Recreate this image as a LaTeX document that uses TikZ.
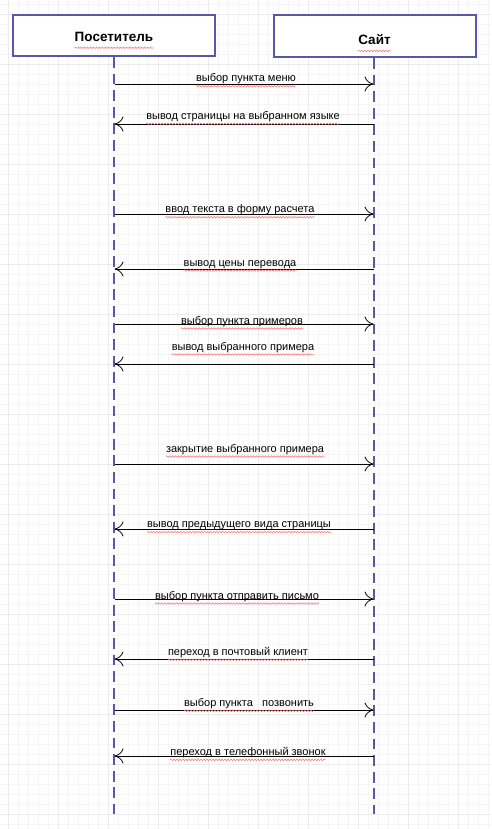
\documentclass[tikz,border=0pt]{standalone}
\usepackage{fontspec}
\setmainfont{Liberation Sans}
\usetikzlibrary{positioning}
\usetikzlibrary{calc}
\usetikzlibrary{arrows.meta}
\usetikzlibrary{decorations.pathmorphing}
\definecolor{cl}{RGB}{88,88,170}
\definecolor{cg}{RGB}{245,245,245}
\definecolor{cgm}{RGB}{236,236,236}
\definecolor{cs}{RGB}{255,110,110}
\tikzstyle{gridline}=[cg, line width=0.8pt]
\tikzstyle{gridmajor}=[cgm, line width=0.8pt]
\tikzstyle{actor}=[draw=cl, line width=2pt, fill=white, minimum width=202pt, minimum height=41pt]
\tikzstyle{head}=[inner sep=0pt, anchor=base, font=\fontsize{13.5}{16}\selectfont\bfseries]
\tikzstyle{lifeline}=[cl, line width=2pt, dash pattern=on 10.8pt off 5.8pt]
\tikzstyle{msg}=[black, line width=0.8pt, -{Computer Modern Rightarrow[length=9pt,width=15pt]}]
\tikzstyle{msgtext}=[inner sep=0pt, anchor=base, font=\fontsize{11}{13}\selectfont]
\tikzstyle{spell}=[cs, line width=0.5pt, decorate, decoration={snake, amplitude=0.8pt, segment length=3pt}]

\begin{document}
\begin{tikzpicture}[x=1pt, y=-1pt]
  \useasboundingbox [fill=white] (0,0) rectangle (491,829);
  % background grid
  \foreach \g in {8,18,...,488}
    \draw [gridline] (\g,0) -- (\g,829);
  \foreach \g in {4,14,...,824}
    \draw [gridline] (0,\g) -- (491,\g);
  \foreach \g in {8,58,...,458}
    \draw [gridmajor] (\g,0) -- (\g,829);
  \foreach \g in {14,64,...,814}
    \draw [gridmajor] (0,\g) -- (491,\g);

  % actors
  \node [actor] (visitor) at (114,35.5) {};
  \node [actor, minimum height=42pt] (site) at (374.5,36) {};
  \node [head] (visitor-name) at ([yshift=-6.2pt]visitor.center) {Посетитель};
  \node [head] (site-name) at ([yshift=-9pt]site.center) {Сайт};
  \draw [spell] ([yshift=-6pt]visitor-name.base west) -- ([yshift=-6pt]visitor-name.base east);
  \draw [spell] ([yshift=-6pt]site-name.base west) -- ([yshift=-6pt]site-name.base east);

  % lifelines
  \coordinate (visitor-end) at (114,814);
  \coordinate (site-end) at (374,814);
  \draw [lifeline] (visitor.south) -- (visitor-end);
  \draw [lifeline] (site.south -| site-end) -- (site-end);

  % messages
  \foreach \y/\lx/\ly/\a/\b/\t [count=\i] in {
      84/246/81.7/v/s/выбор пункта меню,
      124/243/119.3/s/v/вывод страницы на выбранном языке,
      214/240/212.7/v/s/ввод текста в форму расчета,
      269/240/266/s/v/вывод цены перевода,
      324/242/324/v/s/выбор пункта примеров,
      364/243/350/s/v/вывод выбранного примера,
      464/245/452/v/s/закрытие выбранного примера,
      529/239/527.7/s/v/вывод предыдущего вида страницы,
      599/237/599/v/s/выбор пункта отправить письмо,
      659/238/655.3/s/v/переход в почтовый клиент,
      710/249/706.3/v/s/выбор пункта\ \ \ позвонить,
      756/248/755.3/s/v/переход в телефонный звонок}{
    \coordinate (v-\i) at (114.5,\y);
    \coordinate (s-\i) at (373.5,\y);
    \draw [msg] (\a-\i) -- (\b-\i);
    \node [msgtext] (m-\i) at (\lx,\ly) {\t};
    \draw [spell] ([yshift=-4.5pt]m-\i.base west) -- ([yshift=-4.5pt]m-\i.base east);
  }
\end{tikzpicture}
\end{document}
